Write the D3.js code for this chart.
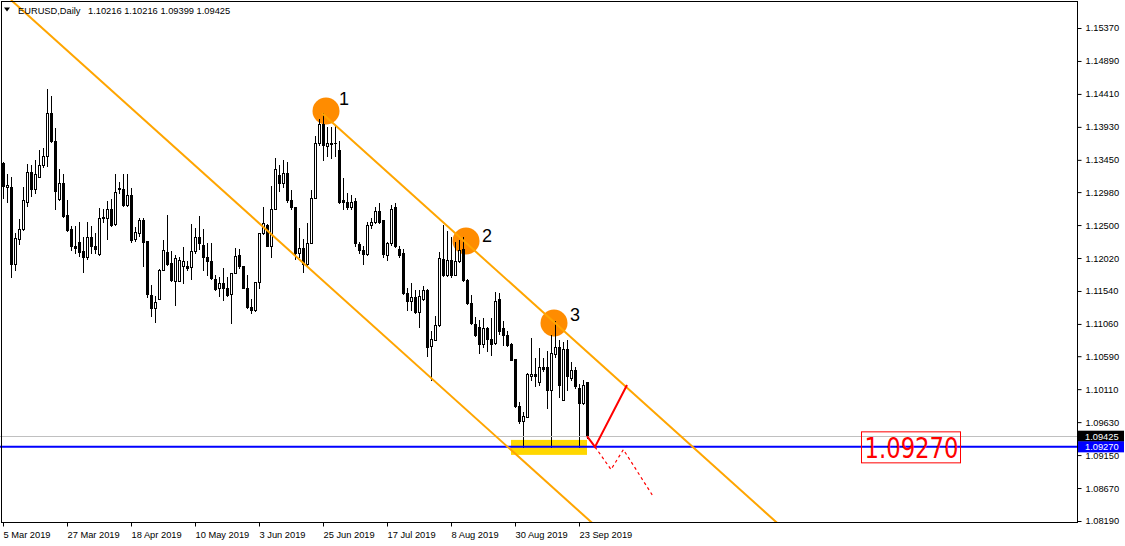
<!DOCTYPE html>
<html><head><meta charset="utf-8">
<script src="https://cdn.jsdelivr.net/npm/d3@7"></script>
<style>html,body{margin:0;padding:0;background:#fff;} svg{display:block;}</style>
</head><body><div id="chart"></div>
<script>
const symbolTitle = "EURUSD,Daily";
const titleQuote = ["1.10216", "1.10216", "1.09399", "1.09425"];

const open = [1.1340,1.1306,1.1305,1.1193,1.1229,1.1244,1.1284,1.1327,1.1302,1.1320,
1.1338,1.1351,1.1413,1.1373,1.1288,1.1311,1.1265,1.1244,1.1220,1.1225,
1.1212,1.1203,1.1232,1.1220,1.1208,1.1262,1.1261,1.1273,1.1251,1.1304,
1.1303,1.1279,1.1294,1.1229,1.1239,1.1257,1.1227,1.1148,1.1129,1.1142,
1.1184,1.1211,1.1195,1.1169,1.1169,1.1190,1.1191,1.1189,1.1212,1.1233,
1.1221,1.1204,1.1198,1.1171,1.1159,1.1165,1.1158,1.1150,1.1180,1.1206,
1.1190,1.1159,1.1131,1.1127,1.1167,1.1238,1.1250,1.1220,1.1274,1.1323,
1.1311,1.1326,1.1286,1.1276,1.1209,1.1216,1.1194,1.1224,1.1290,1.1369,
1.1397,1.1365,1.1370,1.1369,1.1360,1.1286,1.1284,1.1277,1.1285,1.1223,
1.1214,1.1208,1.1250,1.1255,1.1270,1.1257,1.1207,1.1224,1.1277,1.1215,
1.1209,1.1151,1.1140,1.1145,1.1123,1.1143,1.1155,1.1074,1.1083,1.1105,
1.1200,1.1177,1.1199,1.1178,1.1197,1.1215,1.1170,1.1136,1.1106,1.1102,
1.1077,1.1100,1.1084,1.1078,1.1143,1.1100,1.1090,1.1077,1.1055,1.0986,
1.0965,1.0971,1.1030,1.1033,1.1022,1.1044,1.1044,1.1010,1.1062,1.1072,
1.0995,1.1069,1.1027,1.1039,1.1012,1.0991,1.10216];

const high = [1.1342,1.1324,1.1320,1.1238,1.1259,1.1305,1.1339,1.1338,1.1345,1.1359,
1.1362,1.1448,1.1438,1.1391,1.1331,1.1325,1.1286,1.1249,1.1248,1.1254,
1.1233,1.1254,1.1248,1.1238,1.1275,1.1273,1.1285,1.1288,1.1324,1.1313,
1.1324,1.1324,1.1304,1.1247,1.1261,1.1261,1.1227,1.1162,1.1146,1.1186,
1.1228,1.1265,1.1212,1.1206,1.1204,1.1218,1.1197,1.1252,1.1245,1.1263,
1.1244,1.1224,1.1224,1.1177,1.1175,1.1187,1.1175,1.1180,1.1216,1.1215,
1.1191,1.1177,1.1143,1.1167,1.1239,1.1277,1.1251,1.1307,1.1347,1.1337,
1.1345,1.1342,1.1301,1.1277,1.1245,1.1229,1.1253,1.1301,1.1379,1.1405,
1.1413,1.1393,1.1393,1.1396,1.1372,1.1318,1.1296,1.1294,1.1290,1.1226,
1.1219,1.1255,1.1260,1.1277,1.1282,1.1257,1.1226,1.1279,1.1282,1.1220,
1.1215,1.1158,1.1165,1.1156,1.1156,1.1161,1.1157,1.1095,1.1117,1.1211,
1.1250,1.1241,1.1233,1.1226,1.1228,1.1232,1.1172,1.1148,1.1116,1.1112,
1.1114,1.1102,1.1114,1.1152,1.1151,1.1110,1.1095,1.1078,1.1055,1.0993,
1.0978,1.1034,1.1085,1.1056,1.1071,1.1056,1.1066,1.1090,1.1110,1.1083,
1.1080,1.1083,1.1051,1.1044,1.1019,1.1024,1.10216];

const low = [1.1289,1.1284,1.1175,1.1184,1.1222,1.1243,1.1278,1.1292,1.1296,1.1320,
1.1334,1.1336,1.1371,1.1273,1.1287,1.1262,1.1242,1.1213,1.1210,1.1205,
1.1182,1.1200,1.1210,1.1209,1.1207,1.1255,1.1229,1.1249,1.1250,1.1296,
1.1278,1.1278,1.1226,1.1227,1.1234,1.1191,1.1145,1.1117,1.1109,1.1142,
1.1184,1.1192,1.1169,1.1134,1.1168,1.1166,1.1185,1.1172,1.1209,1.1215,
1.1185,1.1177,1.1171,1.1155,1.1146,1.1141,1.1146,1.1108,1.1180,1.1188,
1.1158,1.1129,1.1122,1.1125,1.1159,1.1237,1.1219,1.1204,1.1274,1.1299,
1.1305,1.1284,1.1274,1.1200,1.1204,1.1182,1.1190,1.1224,1.1289,1.1367,
1.1345,1.1350,1.1347,1.1350,1.1282,1.1274,1.1273,1.1274,1.1219,1.1209,
1.1193,1.1207,1.1245,1.1253,1.1253,1.1204,1.1199,1.1221,1.1218,1.1204,
1.1150,1.1127,1.1127,1.1122,1.1102,1.1141,1.1060,1.1025,1.1082,1.1103,
1.1176,1.1176,1.1175,1.1177,1.1196,1.1168,1.1135,1.1106,1.1089,1.1064,
1.1073,1.1066,1.1061,1.1077,1.1092,1.1076,1.1074,1.1053,1.0985,1.0961,
1.0927,1.0970,1.1025,1.1015,1.1017,1.1037,1.0983,1.0927,1.1058,1.1000,
1.0995,1.1010,1.1024,1.1012,1.0927,1.0990,1.09399];

const close = [1.1307,1.1308,1.1193,1.1231,1.1244,1.1287,1.1327,1.1302,1.1324,1.1338,
1.1351,1.1413,1.1373,1.1300,1.1311,1.1263,1.1243,1.1219,1.1216,1.1211,
1.1203,1.1232,1.1219,1.1215,1.1261,1.1261,1.1273,1.1250,1.1298,1.1303,
1.1279,1.1294,1.1228,1.1240,1.1257,1.1226,1.1150,1.1129,1.1138,1.1185,
1.1214,1.1194,1.1170,1.1202,1.1199,1.1198,1.1188,1.1212,1.1232,1.1224,
1.1203,1.1198,1.1173,1.1157,1.1165,1.1159,1.1148,1.1180,1.1205,1.1190,
1.1159,1.1130,1.1127,1.1167,1.1238,1.1253,1.1220,1.1274,1.1331,1.1311,
1.1326,1.1286,1.1276,1.1210,1.1216,1.1194,1.1224,1.1290,1.1369,1.1397,
1.1367,1.1369,1.1368,1.1370,1.1284,1.1283,1.1276,1.1284,1.1224,1.1214,
1.1208,1.1250,1.1254,1.1270,1.1254,1.1208,1.1224,1.1274,1.1220,1.1207,
1.1151,1.1139,1.1145,1.1124,1.1146,1.1155,1.1073,1.1084,1.1105,1.1202,
1.1177,1.1199,1.1178,1.1197,1.1214,1.1170,1.1136,1.1107,1.1090,1.1077,
1.1100,1.1084,1.1077,1.1139,1.1095,1.1090,1.1076,1.1054,1.0986,1.0965,
1.0972,1.1033,1.1033,1.1030,1.1044,1.1041,1.1010,1.1063,1.1072,1.1017,
1.1069,1.1030,1.1039,1.1015,1.0991,1.1017,1.09425];

const xTickBars = [0, 16, 32, 48, 64, 80, 96, 112, 128, 144];
const xTickLabels = ["5 Mar 2019", "27 Mar 2019", "18 Apr 2019", "10 May 2019", "3 Jun 2019",
  "25 Jun 2019", "17 Jul 2019", "8 Aug 2019", "30 Aug 2019", "23 Sep 2019"];
const yTicks = [1.15370, 1.14890, 1.14410, 1.13930, 1.13450, 1.12980, 1.12500, 1.12020,
  1.11540, 1.11060, 1.10590, 1.10110, 1.09630, 1.09150, 1.08670, 1.08190];

const bidPrice = 1.09425;
const levelPrice = 1.09270;
const lowerChannel = [{bar: 2, price: 1.15778}, {bar: 150, price: 1.08020}];
const upperChannel = [{bar: 79.75, price: 1.14128}, {bar: 196, price: 1.08033}];
const pivotBars = [80.75, 115.75, 137.75];
const pivotPrices = [1.14161, 1.12268, 1.11074];
const pivotLabels = ["1", "2", "3"];
const zoneBars = [127, 146];
const zonePrices = [1.09371, 1.09153];
const projBars = [146, 148, 156];
const projPrices = [1.09425, 1.09270, 1.10170];
const altBars = [148, 152, 155.1, 162.3];
const altPrices = [1.09270, 1.08940, 1.09230, 1.08570];
const levelLabelBar = 227;

const W = 1125, H = 546, plotR = 1077, plotB = 522;
const FONT = "'Liberation Sans', Arial, sans-serif";

const x = d3.scaleLinear().domain([0, 1]).range([3, 7]);
const y = d3.scaleLinear().domain([1.15370, 1.08190]).range([28, 521]);

const svg = d3.select("#chart").append("svg").attr("width", W).attr("height", H)
  .style("background", "#fff");

svg.append("defs").append("clipPath").attr("id", "plotclip")
  .append("rect").attr("x", 0).attr("y", 0).attr("width", plotR).attr("height", plotB);

const plot = svg.append("g").attr("clip-path", "url(#plotclip)");

// support zone
plot.append("rect")
  .attr("x", x(zoneBars[0])).attr("width", x(zoneBars[1]) - x(zoneBars[0]))
  .attr("y", y(zonePrices[0])).attr("height", y(zonePrices[1]) - y(zonePrices[0]))
  .attr("fill", "#FFD700");

// pivot circles
plot.selectAll("circle.pv").data(pivotBars).join("circle")
  .attr("cx", d => x(d)).attr("cy", (d, i) => y(pivotPrices[i])).attr("r", 13.5)
  .attr("fill", "#FF8C00");

// candles
const bars = open.map((o, i) => ({i, o, h: high[i], l: low[i], c: close[i]}));
const gC = plot.append("g").attr("shape-rendering", "crispEdges");
const cg = gC.selectAll("g").data(bars).join("g");
cg.each(function(d) {
  const g = d3.select(this);
  const px = Math.round(x(d.i));
  const hi = Math.max(d.h, d.o, d.c), lo = Math.min(d.l, d.o, d.c);
  const yH = Math.round(y(hi)), yL = Math.round(y(lo));
  const yT = Math.round(y(Math.max(d.o, d.c))), yB = Math.round(y(Math.min(d.o, d.c)));
  g.append("rect").attr("x", px).attr("y", yH).attr("width", 1).attr("height", yL - yH + 1).attr("fill", "#000");
  g.append("rect").attr("x", px - 1).attr("y", yT).attr("width", 3).attr("height", Math.max(1, yB - yT + 1)).attr("fill", "#000");
  if (d.c > d.o && yB - yT - 1 > 0) {
    g.append("rect").attr("x", px).attr("y", yT + 1).attr("width", 1).attr("height", yB - yT - 1).attr("fill", "#fff");
  }
});

// bid line and level line
plot.append("line").attr("x1", 0).attr("x2", plotR)
  .attr("y1", Math.round(y(bidPrice)) + 0.5).attr("y2", Math.round(y(bidPrice)) + 0.5)
  .attr("stroke", "#C0C0C0").attr("stroke-width", 1);
plot.append("line").attr("x1", 0).attr("x2", plotR)
  .attr("y1", y(levelPrice)).attr("y2", y(levelPrice))
  .attr("stroke", "#0000FF").attr("stroke-width", 2);

// channel lines
const ln = d3.line().x(d => x(d.bar)).y(d => y(d.price));
[lowerChannel, upperChannel].forEach(c => {
  plot.append("path").attr("d", ln(c)).attr("fill", "none")
    .attr("stroke", "#FFA500").attr("stroke-width", 2);
});

// projected paths
const ln2 = d3.line().x(d => x(d[0])).y(d => y(d[1]));
plot.append("path").attr("d", ln2(projBars.map((b, i) => [b, projPrices[i]])))
  .attr("fill", "none").attr("stroke", "#FF0000").attr("stroke-width", 2);
plot.append("path").attr("d", ln2(altBars.map((b, i) => [b, altPrices[i]])))
  .attr("fill", "none").attr("stroke", "#FF0000").attr("stroke-width", 1.2)
  .attr("stroke-dasharray", "3,3");

// pivot labels
const labelOff = [[13, -6], [16, 1], [16, -1.5]];
plot.selectAll("text.pl").data(pivotLabels).join("text")
  .attr("x", (d, i) => x(pivotBars[i]) + labelOff[i][0])
  .attr("y", (d, i) => y(pivotPrices[i]) + labelOff[i][1])
  .attr("font-family", FONT).attr("font-size", 18).attr("fill", "#000")
  .text(d => d);

// level label
const lx = x(levelLabelBar), ly = y(levelPrice);
plot.append("rect").attr("x", lx - 49.5).attr("y", ly - 15).attr("width", 99).attr("height", 31)
  .attr("fill", "none").attr("stroke", "#FF0000").attr("stroke-width", 1);
plot.append("text").attr("x", lx - 46.5).attr("y", ly + 11.5)
  .attr("font-family", "'DejaVu Sans', sans-serif").attr("font-size", 28.5)
  .attr("textLength", 94).attr("lengthAdjust", "spacingAndGlyphs")
  .attr("fill", "#FF0000").text(levelPrice.toFixed(5));

// frame
svg.append("rect").attr("x", 1.5).attr("y", 1.5).attr("width", plotR - 1.5).attr("height", plotB - 1.5)
  .attr("fill", "none").attr("stroke", "#000").attr("stroke-width", 1).attr("shape-rendering", "crispEdges");

// y axis
const yAxis = d3.axisRight(y).tickValues(yTicks).tickFormat(d3.format(".5f")).tickSize(4).tickPadding(4);
const gy = svg.append("g").attr("transform", `translate(${plotR + 0.5},0)`).call(yAxis);
gy.select(".domain").remove();
gy.selectAll("text").attr("font-family", FONT).attr("font-size", 9.3).attr("fill", "#000");
gy.selectAll("line").attr("stroke", "#000");

// x axis
const xAxis = d3.axisBottom(x).tickValues(xTickBars).tickFormat((d, i) => xTickLabels[i]).tickSize(4).tickPadding(5);
const gx = svg.append("g").attr("transform", `translate(0,${plotB + 0.5})`).call(xAxis);
gx.select(".domain").remove();
gx.selectAll("text").attr("font-family", FONT).attr("font-size", 9.3).attr("fill", "#000")
  .attr("text-anchor", "start").attr("x", 0);
gx.selectAll("line").attr("stroke", "#000");

// price boxes on the axis
[[bidPrice, "#000000"], [levelPrice, "#0000FF"]].forEach(([p, col]) => {
  const yy = y(p);
  svg.append("rect").attr("x", plotR + 1).attr("y", yy - 5.5).attr("width", 46).attr("height", 11).attr("fill", col);
  svg.append("text").attr("x", plotR + 8).attr("y", yy + 3.4).attr("font-family", FONT).attr("font-size", 9.3)
    .attr("fill", "#fff").text(p.toFixed(5));
});

// title
svg.append("path").attr("d", "M4,7.5 L10,7.5 L7,11.5 Z").attr("fill", "#000");
svg.append("text").attr("x", 18).attr("y", 14).attr("font-family", FONT).attr("font-size", 9.3)
  .attr("fill", "#000").text(symbolTitle);
svg.append("text").attr("x", 88).attr("y", 14).attr("font-family", FONT).attr("font-size", 9.3)
  .attr("fill", "#000").text(titleQuote.join(" "));
</script></body></html>
